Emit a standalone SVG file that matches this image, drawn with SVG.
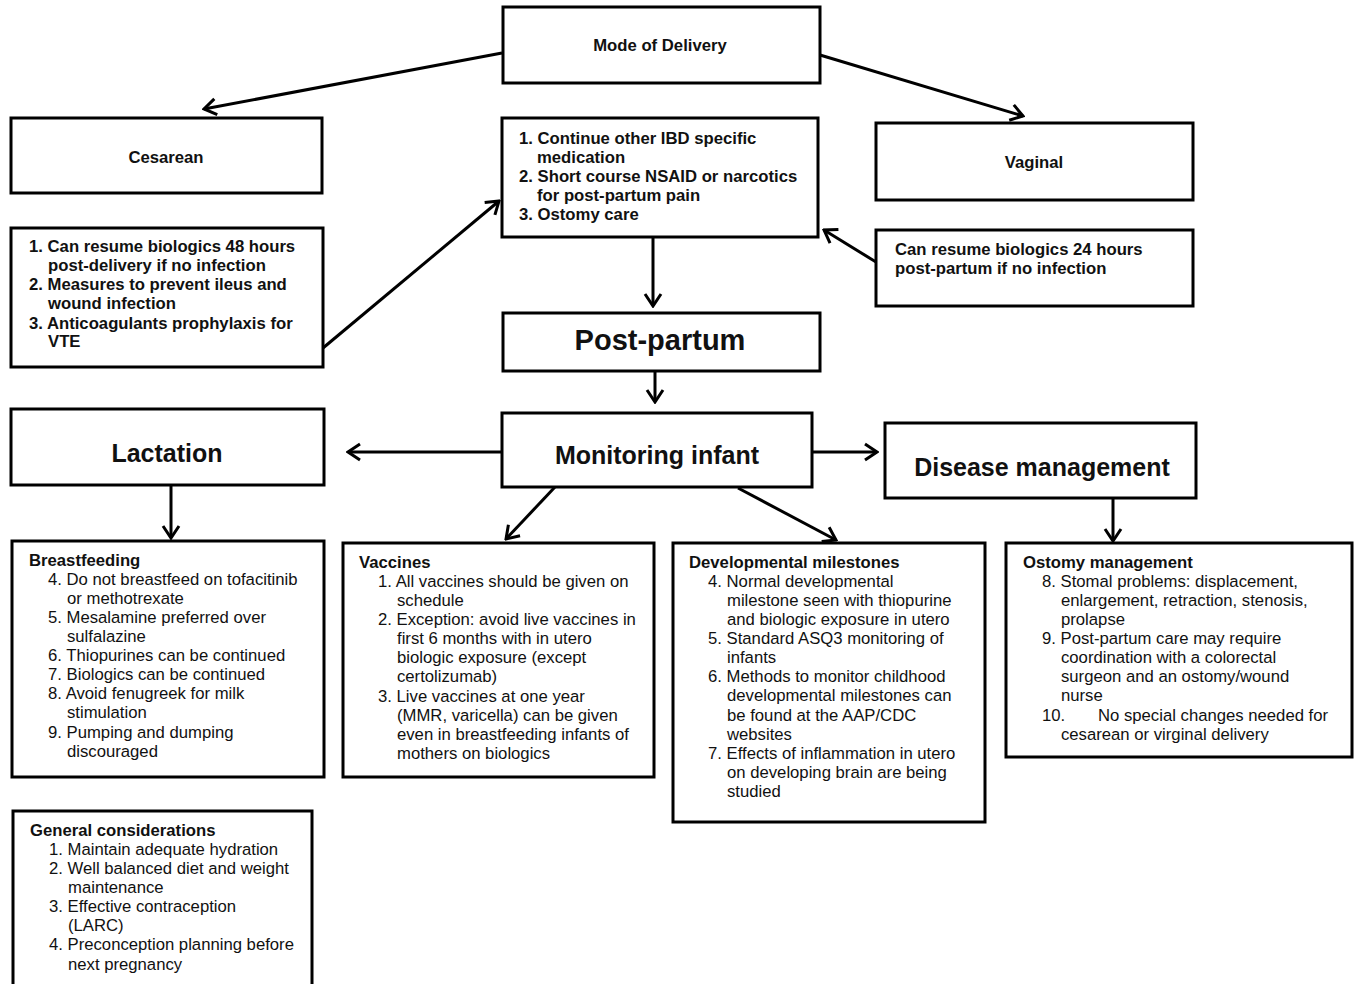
<svg xmlns="http://www.w3.org/2000/svg" width="1357" height="984" viewBox="0 0 1357 984">
<style>
.box{fill:#fff;stroke:#000;stroke-width:3}
.t{font-family:"Liberation Sans Narrow","Arial Narrow","Liberation Sans",sans-serif;font-size:16.7px;fill:#111}
.b{font-weight:bold}
.big{font-family:"Liberation Sans",Arial,sans-serif;font-weight:bold;fill:#111}
.g{font-family:"Liberation Sans",Arial,sans-serif;font-size:16.7px;fill:#111}
.c{stroke:#000;stroke-width:3;fill:none;marker-end:url(#ah)}
</style>
<defs>
<marker id="ah" markerUnits="userSpaceOnUse" viewBox="-14 -10 16 20" refX="0" refY="0" markerWidth="16" markerHeight="20" orient="auto">
<path d="M-12,-8 L0,0 L-12,8" fill="none" stroke="#000" stroke-width="3"/>
</marker>
</defs>
<rect width="1357" height="984" fill="#fff"/>
<g id="connectors">
<line class="c" x1="502" y1="53" x2="204" y2="109"/>
<line class="c" x1="820" y1="55" x2="1023" y2="116"/>
<line class="c" x1="323" y1="348" x2="499" y2="201"/>
<line class="c" x1="876" y1="262" x2="824" y2="230"/>
<line class="c" x1="653" y1="237" x2="653" y2="306"/>
<line class="c" x1="655" y1="371" x2="655" y2="402"/>
<line class="c" x1="502" y1="452" x2="348" y2="452"/>
<line class="c" x1="812" y1="452" x2="877" y2="452"/>
<line class="c" x1="171" y1="485" x2="171" y2="538"/>
<line class="c" x1="555" y1="487" x2="506" y2="539"/>
<line class="c" x1="738" y1="488" x2="836" y2="540"/>
<line class="c" x1="1113" y1="498" x2="1113" y2="541"/>
</g>
<g id="mode">
<rect class="box" x="503" y="7" width="317" height="76"/>
<text class="t b" x="660" y="51" text-anchor="middle" font-size="16">Mode of Delivery</text>
</g>
<g id="cesarean">
<rect class="box" x="11" y="118" width="311" height="75"/>
<text class="t b" x="166" y="163" text-anchor="middle" font-size="16">Cesarean</text>
</g>
<g id="vaginal">
<rect class="box" x="876" y="123" width="317" height="77"/>
<text class="t b" x="1034" y="168" text-anchor="middle" font-size="16">Vaginal</text>
</g>
<g id="common">
<rect class="box" x="502" y="118" width="316" height="119"/>
<text class="t b"><tspan x="519" y="144">1. Continue other IBD specific</tspan><tspan x="537" y="163">medication</tspan><tspan x="519" y="182">2. Short course NSAID or narcotics</tspan><tspan x="537" y="201">for post-partum pain</tspan><tspan x="519" y="220">3. Ostomy care</tspan></text>
</g>
<g id="cesarean-list">
<rect class="box" x="11" y="228" width="312" height="139"/>
<text class="t b"><tspan x="29" y="252">1. Can resume biologics 48 hours</tspan><tspan x="48" y="271">post-delivery if no infection</tspan><tspan x="29" y="290">2. Measures to prevent ileus and</tspan><tspan x="48" y="309">wound infection</tspan><tspan x="29" y="329">3. Anticoagulants prophylaxis for</tspan><tspan x="48" y="347">VTE</tspan></text>
</g>
<g id="vaginal-list">
<rect class="box" x="876" y="230" width="317" height="76"/>
<text class="t b"><tspan x="895" y="255">Can resume biologics 24 hours</tspan><tspan x="895" y="274">post-partum if no infection</tspan></text>
</g>
<g id="postpartum">
<rect class="box" x="503" y="313" width="317" height="58"/>
<text class="big" x="660" y="350" text-anchor="middle" font-size="29">Post-partum</text>
</g>
<g id="lactation">
<rect class="box" x="11" y="409" width="313" height="76"/>
<text class="big" x="167" y="462" text-anchor="middle" font-size="25">Lactation</text>
</g>
<g id="monitoring">
<rect class="box" x="502" y="413" width="310" height="74"/>
<text class="big" x="657" y="464" text-anchor="middle" font-size="25">Monitoring infant</text>
</g>
<g id="disease">
<rect class="box" x="885" y="423" width="311" height="75"/>
<text class="big" x="1042" y="476" text-anchor="middle" font-size="25">Disease management</text>
</g>
<g id="breastfeeding">
<rect class="box" x="12" y="541" width="312" height="236"/>
<text class="t"><tspan class="b" x="29" y="566">Breastfeeding</tspan>
<tspan x="48" y="585">4. Do not breastfeed on tofacitinib</tspan><tspan x="67" y="604">or methotrexate</tspan>
<tspan x="48" y="623">5. Mesalamine preferred over</tspan><tspan x="67" y="642">sulfalazine</tspan>
<tspan x="48" y="661">6. Thiopurines can be continued</tspan>
<tspan x="48" y="680">7. Biologics can be continued</tspan>
<tspan x="48" y="699">8. Avoid fenugreek for milk</tspan><tspan x="67" y="718">stimulation</tspan>
<tspan x="48" y="738">9. Pumping and dumping</tspan><tspan x="67" y="757">discouraged</tspan></text>
</g>
<g id="vaccines">
<rect class="box" x="343" y="543" width="311" height="234"/>
<text class="t"><tspan class="b" x="359" y="568">Vaccines</tspan>
<tspan x="378" y="587">1. All vaccines should be given on</tspan><tspan x="397" y="606">schedule</tspan>
<tspan x="378" y="625">2. Exception: avoid live vaccines in</tspan><tspan x="397" y="644">first 6 months with in utero</tspan><tspan x="397" y="663">biologic exposure (except</tspan><tspan x="397" y="682">certolizumab)</tspan>
<tspan x="378" y="702">3. Live vaccines at one year</tspan><tspan x="397" y="721">(MMR, varicella) can be given</tspan><tspan x="397" y="740">even in breastfeeding infants of</tspan><tspan x="397" y="759">mothers on biologics</tspan></text>
</g>
<g id="milestones">
<rect class="box" x="673" y="543" width="312" height="279"/>
<text class="t"><tspan class="b" x="689" y="568">Developmental milestones</tspan>
<tspan x="708" y="587">4. Normal developmental</tspan><tspan x="727" y="606">milestone seen with thiopurine</tspan><tspan x="727" y="625">and biologic exposure in utero</tspan>
<tspan x="708" y="644">5. Standard ASQ3 monitoring of</tspan><tspan x="727" y="663">infants</tspan>
<tspan x="708" y="682">6. Methods to monitor childhood</tspan><tspan x="727" y="701">developmental milestones can</tspan><tspan x="727" y="721">be found at the AAP/CDC</tspan><tspan x="727" y="740">websites</tspan>
<tspan x="708" y="759">7. Effects of inflammation in utero</tspan><tspan x="727" y="778">on developing brain are being</tspan><tspan x="727" y="797">studied</tspan></text>
</g>
<g id="ostomy">
<rect class="box" x="1006" y="543" width="346" height="214"/>
<text class="t"><tspan class="b" x="1023" y="568">Ostomy management</tspan>
<tspan x="1042" y="587">8. Stomal problems: displacement,</tspan><tspan x="1061" y="606">enlargement, retraction, stenosis,</tspan><tspan x="1061" y="625">prolapse</tspan>
<tspan x="1042" y="644">9. Post-partum care may require</tspan><tspan x="1061" y="663">coordination with a colorectal</tspan><tspan x="1061" y="682">surgeon and an ostomy/wound</tspan><tspan x="1061" y="701">nurse</tspan>
<tspan x="1042" y="721">10.</tspan><tspan x="1098" y="721">No special changes needed for</tspan><tspan x="1061" y="740">cesarean or virginal delivery</tspan></text>
</g>
<g id="general">
<rect class="box" x="13" y="811" width="299" height="190"/>
<text class="g"><tspan class="b" x="30" y="836">General considerations</tspan>
<tspan x="49" y="855">1. Maintain adequate hydration</tspan>
<tspan x="49" y="874">2. Well balanced diet and weight</tspan><tspan x="68" y="893">maintenance</tspan>
<tspan x="49" y="912">3. Effective contraception</tspan><tspan x="68" y="931">(LARC)</tspan>
<tspan x="49" y="950">4. Preconception planning before</tspan><tspan x="68" y="970">next pregnancy</tspan></text>
</g>
</svg>
